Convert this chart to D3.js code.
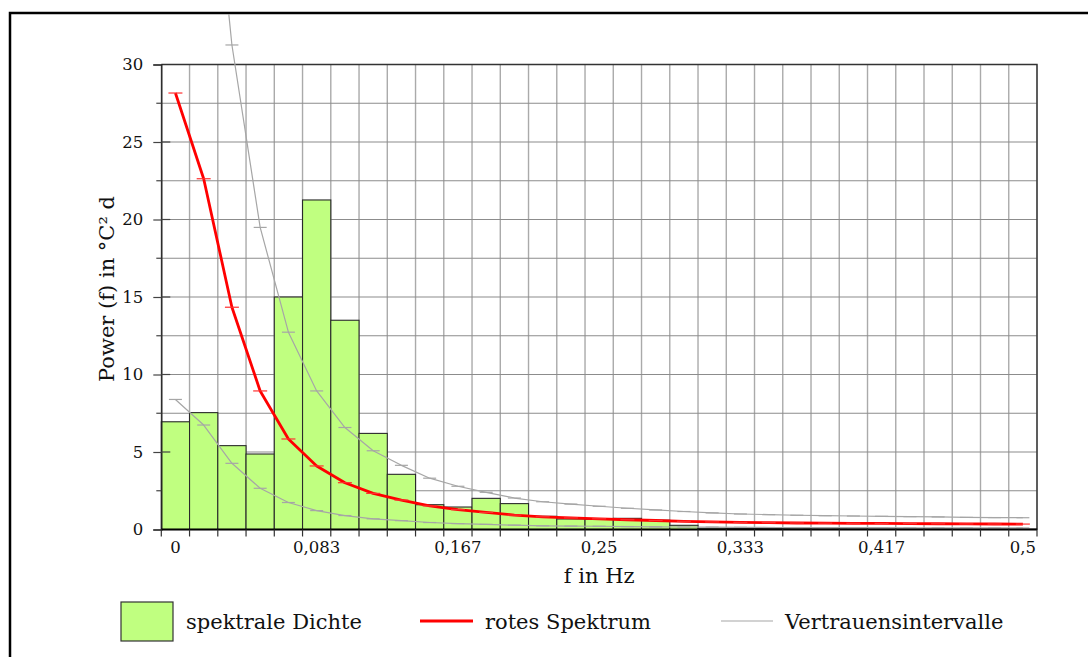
<!DOCTYPE html>
<html>
<head>
<meta charset="utf-8">
<script src="https://cdn.jsdelivr.net/npm/d3@7"></script>
<style>
  html, body { margin: 0; padding: 0; background: #fff; }
  svg { display: block; }
  text { font-family: "DejaVu Serif", "Liberation Serif", serif; fill: #111; }
</style>
</head>
<body>
<script>
// ---------- data ----------
const categories = [0,1,2,3,4,5,6,7,8,9,10,11,12,13,14,15,16,17,18,19,20,21,22,23,24,25,26,27,28,29,30];
const xTickLabels = {0: "0", 5: "0,083", 10: "0,167", 15: "0,25", 20: "0,333", 25: "0,417", 30: "0,5"};
const yTicks = [0, 5, 10, 15, 20, 25, 30];
const yMinorTicks = [2.5, 7.5, 12.5, 17.5, 22.5, 27.5];

const spektraleDichte = [6.95, 7.54, 5.41, 4.87, 15.0, 21.26, 13.5, 6.2, 3.56, 1.6, 1.45, 2.01, 1.67, 0.85, 0.68, 0.66, 0.72, 0.6, 0.27, 0.08, 0.07, 0.06, 0.05, 0.04, 0.04, 0.03, 0.03, 0.03, 0.02, 0.02, 0.02];
const rotesSpektrum = [28.16, 22.63, 14.34, 8.94, 5.84, 4.1, 3.02, 2.33, 1.9, 1.52, 1.28, 1.1, 0.93, 0.82, 0.75, 0.69, 0.63, 0.58, 0.53, 0.49, 0.46, 0.44, 0.42, 0.41, 0.4, 0.39, 0.38, 0.37, 0.36, 0.355, 0.35];
const oberesIntervall = [61.4, 49.3, 31.26, 19.49, 12.73, 8.94, 6.58, 5.08, 4.14, 3.31, 2.79, 2.4, 2.03, 1.79, 1.64, 1.5, 1.37, 1.26, 1.16, 1.07, 1.0, 0.96, 0.92, 0.89, 0.87, 0.85, 0.83, 0.81, 0.78, 0.77, 0.76];
const unteresIntervall = [8.39, 6.74, 4.27, 2.66, 1.74, 1.22, 0.9, 0.69, 0.57, 0.45, 0.38, 0.33, 0.28, 0.24, 0.22, 0.21, 0.19, 0.17, 0.16, 0.15, 0.14, 0.13, 0.125, 0.12, 0.12, 0.115, 0.11, 0.11, 0.107, 0.106, 0.104];

const legendItems = ["spektrale Dichte", "rotes Spektrum", "Vertrauensintervalle"];

// ---------- layout ----------
const W = 1088, H = 657;
const plot = {left: 161.3, right: 1037, top: 64.5, bottom: 529.5};
const tickFont = 16.5, titleFont = 21;

const svg = d3.select("body").append("svg").attr("width", W).attr("height", H);

svg.append("defs").append("clipPath").attr("id", "frameClip")
  .append("rect").attr("x", 11).attr("y", 14).attr("width", W).attr("height", H);

const x = d3.scaleBand().domain(categories).range([plot.left, plot.right]).paddingInner(0).paddingOuter(0);
const y = d3.scaleLinear().domain([0, 30]).range([plot.bottom, plot.top]);
const cx = d => x(d) + x.bandwidth() / 2;

// outer frame
svg.append("path")
  .attr("d", `M10,${H + 5} L10,13 L${W + 5},13`)
  .attr("fill", "none").attr("stroke", "#000").attr("stroke-width", 2.5);

// grid
const grid = svg.append("g");
const edges = categories.map(c => x(c)).concat([plot.right]);
grid.selectAll("line.v").data(edges).join("line")
  .attr("x1", d => d).attr("x2", d => d)
  .attr("y1", plot.top).attr("y2", plot.bottom)
  .attr("stroke", "#aaaaaa").attr("stroke-width", 1.4);
grid.selectAll("line.h").data(yTicks.concat(yMinorTicks)).join("line")
  .attr("x1", plot.left).attr("x2", plot.right)
  .attr("y1", d => y(d)).attr("y2", d => y(d))
  .attr("stroke", "#8c8c8c").attr("stroke-width", 1.2);

// bars
svg.append("g").selectAll("rect").data(categories).join("rect")
  .attr("x", d => x(d))
  .attr("y", (d, i) => y(spektraleDichte[i]))
  .attr("width", x.bandwidth())
  .attr("height", (d, i) => plot.bottom - y(spektraleDichte[i]))
  .attr("fill", "#c0ff80").attr("stroke", "#2a2a2a").attr("stroke-width", 1.1);

// plot border (top/right)
svg.append("path")
  .attr("d", `M${plot.left},${plot.top} L${plot.right},${plot.top} L${plot.right},${plot.bottom}`)
  .attr("fill", "none").attr("stroke", "#333").attr("stroke-width", 1.4);

// lines
const lineGen = arr => d3.line().x(d => cx(d)).y((d, i) => y(arr[i]))(categories);
const lines = svg.append("g").attr("clip-path", "url(#frameClip)");

function drawSeries(arr, color, width, markerW, markerColor) {
  lines.append("path").attr("d", lineGen(arr))
    .attr("fill", "none").attr("stroke", color).attr("stroke-width", width)
    .attr("stroke-linejoin", "round");
  lines.append("g").selectAll("line").data(categories).join("line")
    .attr("x1", d => cx(d) - markerW / 2).attr("x2", d => cx(d) + markerW / 2)
    .attr("y1", (d, i) => y(arr[i])).attr("y2", (d, i) => y(arr[i]))
    .attr("stroke", markerColor).attr("stroke-width", 1.2);
}
drawSeries(oberesIntervall, "#a6a6a6", 1.2, 13, "#a6a6a6");
drawSeries(unteresIntervall, "#a6a6a6", 1.2, 13, "#a6a6a6");
drawSeries(rotesSpektrum, "#ff0000", 2.8, 14, "#ff3030");

// y axis
const yAxisG = svg.append("g").attr("transform", `translate(${plot.left},0)`);
yAxisG.call(d3.axisLeft(y).tickValues(yTicks).tickSize(8).tickPadding(10).tickFormat(d3.format("d")));
yAxisG.attr("font-family", null).attr("font-size", null);
yAxisG.select(".domain").attr("stroke", "#222").attr("stroke-width", 1.4);
yAxisG.selectAll(".tick line").attr("stroke", "#444").attr("stroke-width", 1.2);
yAxisG.selectAll(".tick text").style("font-size", tickFont + "px").style("font-family", "'DejaVu Serif'").attr("fill", "#111");
yAxisG.selectAll("line.inner").data(yTicks.filter(d => d > 0 && d < 30)).join("line").attr("class", "inner")
  .attr("x1", 0).attr("x2", 9).attr("y1", d => y(d)).attr("y2", d => y(d))
  .attr("stroke", "#444").attr("stroke-width", 1.2);
yAxisG.selectAll("line.minor").data(yMinorTicks).join("line").attr("class", "minor")
  .attr("x1", -5).attr("x2", 0).attr("y1", d => y(d)).attr("y2", d => y(d))
  .attr("stroke", "#444").attr("stroke-width", 1.2);

// x axis
const xAxisG = svg.append("g").attr("transform", `translate(0,${plot.bottom})`);
xAxisG.call(d3.axisBottom(x).tickValues(categories.filter(c => xTickLabels[c] !== undefined))
  .tickSize(0).tickPadding(12).tickFormat(d => xTickLabels[d]));
xAxisG.attr("font-family", null).attr("font-size", null);
xAxisG.select(".domain").remove();
xAxisG.selectAll(".tick text").style("font-size", tickFont + "px").style("font-family", "'DejaVu Serif'").attr("fill", "#111");
xAxisG.append("line").attr("x1", plot.left).attr("x2", plot.right).attr("y1", 0).attr("y2", 0)
  .attr("stroke", "#000").attr("stroke-width", 2.2);
xAxisG.selectAll("line.edge").data(edges).join("line").attr("class", "edge")
  .attr("x1", d => d).attr("x2", d => d).attr("y1", 0).attr("y2", 7)
  .attr("stroke", "#333").attr("stroke-width", 1.2);

// axis titles
svg.append("text")
  .attr("transform", `translate(114,289) rotate(-90)`)
  .attr("text-anchor", "middle").style("font-size", titleFont + "px")
  .text("Power (f) in °C² d");
svg.append("text")
  .attr("x", (plot.left + plot.right) / 2).attr("y", 583)
  .attr("text-anchor", "middle").style("font-size", titleFont + "px")
  .text("f in Hz");

// legend
const lg = svg.append("g");
lg.append("rect").attr("x", 121).attr("y", 602).attr("width", 52).attr("height", 39)
  .attr("fill", "#c0ff80").attr("stroke", "#333").attr("stroke-width", 1.2);
lg.append("text").attr("x", 186).attr("y", 629).style("font-size", titleFont + "px").text(legendItems[0]);
lg.append("line").attr("x1", 420).attr("x2", 473).attr("y1", 621).attr("y2", 621)
  .attr("stroke", "#ff0000").attr("stroke-width", 2.8);
lg.append("text").attr("x", 485).attr("y", 629).style("font-size", titleFont + "px").text(legendItems[1]);
lg.append("line").attr("x1", 721).attr("x2", 773).attr("y1", 621).attr("y2", 621)
  .attr("stroke", "#a6a6a6").attr("stroke-width", 1.2);
lg.append("text").attr("x", 785).attr("y", 629).style("font-size", titleFont + "px").text(legendItems[2]);
</script>
</body>
</html>
